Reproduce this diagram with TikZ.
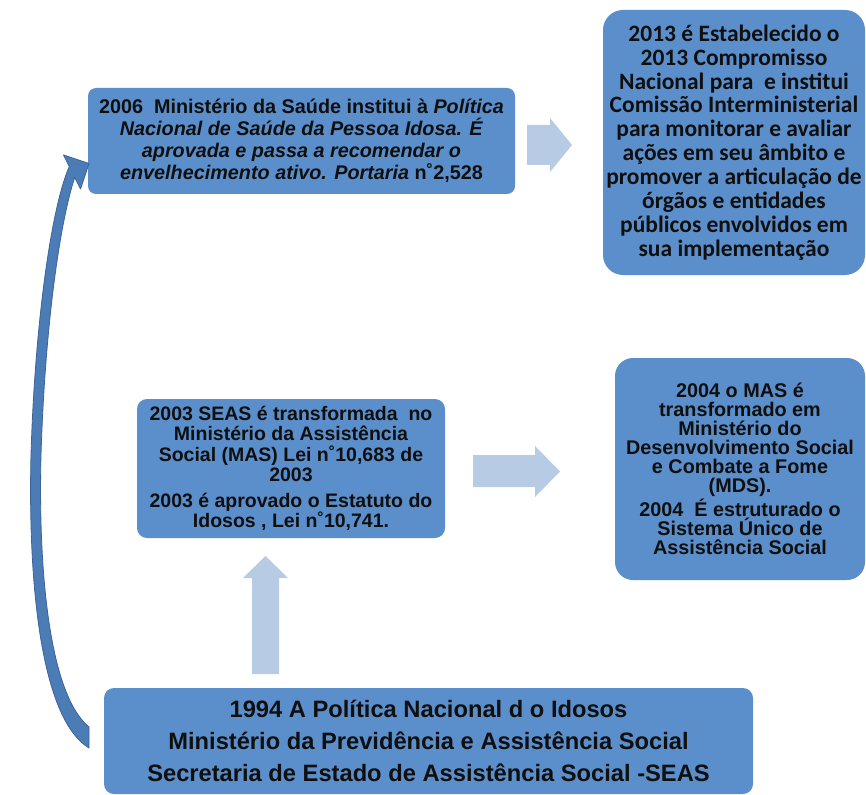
\documentclass[tikz,border=0pt]{standalone}
\usepackage{fontspec}
\setmainfont{Liberation Sans}
\newfontfamily\calibrifont{Carlito}
\lineskiplimit=-100pt
\definecolor{boxblue}{RGB}{91,143,203}
\definecolor{lightarrow}{RGB}{184,203,229}
\definecolor{curveblue}{RGB}{76,124,182}
\definecolor{curveedge}{RGB}{60,100,155}
\definecolor{textblack}{RGB}{15,15,15}
\begin{document}
\begin{tikzpicture}[x=1pt,y=-1pt,
  box/.style={fill=boxblue, draw=none, text=textblack, align=center, inner sep=0pt},
  blockarrow/.style={fill=lightarrow, draw=none},
  curvedarrow/.style={fill=curveblue, draw=curveedge, line width=0.8pt, line join=round}]
\useasboundingbox (0,0) rectangle (866,794);
\fill[white] (0,0) rectangle (866,794);

% boxes
\node[box, minimum width=427pt, minimum height=106pt, rounded corners=8pt,
  font={\fontsize{19.8}{22}\selectfont\bfseries}] (b2006) at (301.5,141)
  {2006~ Ministério da Saúde institui à \textit{Política}\\
   \textit{Nacional de Saúde da Pessoa Idosa. É}\\
   \textit{aprovada e passa a recomendar o}\\
   \textit{envelhecimento ativo. Portaria} n˚2,528};

\node[box, minimum width=262pt, minimum height=265pt, rounded corners=20pt,
  font={\calibrifont\fontsize{23.5}{23.9}\selectfont\bfseries}] (b2013) at (734,142.5)
  {2013 é Estabelecido o\\
   2013 Compromisso\\
   Nacional para~ e institui\\
   Comissão Interministerial\\
   para monitorar e avaliar\\
   ações em seu âmbito e\\
   promover a articulação de\\
   órgãos e entidades\\
   públicos envolvidos em\\
   sua implementação};

\node[box, minimum width=308pt, minimum height=139pt, rounded corners=10pt,
  font={\fontsize{19.5}{20.5}\selectfont\bfseries}] (b2003) at (291,468.5)
  {2003 SEAS é transformada~ no\\
   Ministério da Assistência\\
   Social (MAS) Lei n˚10,683 de\\
   2003\\[5pt]
   2003 é aprovado o Estatuto do\\
   Idosos , Lei n˚10,741.};

\node[box, minimum width=250pt, minimum height=222pt, rounded corners=18pt,
  font={\fontsize{19.8}{19}\selectfont\bfseries}] (b2004) at (740,469)
  {2004 o MAS é\\
   transformado em\\
   Ministério do\\
   Desenvolvimento Social\\
   e Combate a Fome\\
   (MDS).\\[4.5pt]
   2004~ É estruturado o\\
   Sistema Único de\\
   Assistência Social};

\node[box, minimum width=649pt, minimum height=106pt, rounded corners=10pt,
  font={\fontsize{23.7}{31.7}\selectfont\bfseries}] (b1994) at (428.5,741)
  {1994 A Política Nacional d o Idosos\\
   Ministério da Previdência e Assistência Social\\
   Secretaria de Estado de Assistência Social -SEAS};

% light block arrows
\fill[blockarrow] (527,125) -- (550,125) -- (550,118) -- (572,145) -- (550,172) -- (550,165) -- (527,165) -- cycle;
\fill[blockarrow] (473,455) -- (535,455) -- (535,446) -- (560,471.5) -- (535,497) -- (535,487) -- (473,487) -- cycle;
\fill[blockarrow] (252,674) -- (252,578) -- (243,578) -- (265.5,556) -- (288,578) -- (279,578) -- (279,674) -- cycle;

% curved arrow from 1994 box to 2006 box
\coordinate (tailout) at (89,748);
\coordinate (tailin) at (89,727);
\coordinate (tip) at (89,163.5);
\draw[curvedarrow] (tailout)
  .. controls (40,718) and (28,580) .. (31,455)
  .. controls (35,320) and (52,205) .. (69.3,166.6)
  -- (63.5,155) -- (tip) -- (80.5,189) -- (74.7,177.4)
  .. controls (60,222) and (45,325) .. (41,455)
  .. controls (38,575) and (50,695) .. (tailin) -- cycle;
\end{tikzpicture}
\end{document}
